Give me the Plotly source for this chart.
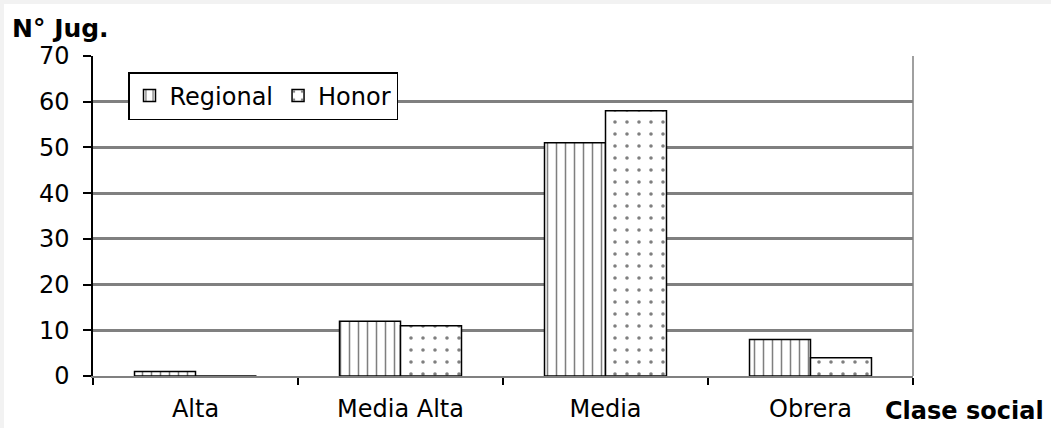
import plotly.graph_objects as go

categories = ["Alta", "Media Alta", "Media", "Obrera"]
regional = [1, 12, 51, 8]
honor = [0, 11, 58, 4]
y_ticks = [0, 10, 20, 30, 40, 50, 60, 70]

W, H = 1051, 428
L, R, T, B = 93, 138, 56, 52
pw, ph = W - L - R, H - T - B

def px_x(p):
    return (p - L) / pw

def px_y(p):
    return (H - B - p) / ph

FONT = "DejaVu Sans, Verdana, sans-serif"

fig = go.Figure()
fig.add_trace(go.Bar(
    x=categories, y=regional, name="Regional",
    marker=dict(color="white", line=dict(color="black", width=1.5),
                pattern=dict(shape="|", size=9, solidity=0.17, fgcolor="black", bgcolor="white")),
))
fig.add_trace(go.Bar(
    x=categories, y=honor, name="Honor",
    marker=dict(color="white", line=dict(color="black", width=1.5),
                pattern=dict(shape=".", size=12, solidity=0.07, fgcolor="black", bgcolor="white")),
))

fig.update_layout(
    width=W, height=H,
    margin=dict(l=L, r=R, t=T, b=B, autoexpand=False),
    paper_bgcolor="#f2f2f2",
    plot_bgcolor="white",
    barmode="group",
    bargap=0.405,
    bargroupgap=0,
    font=dict(family=FONT, size=24, color="black"),
    showlegend=True,
    legend=dict(
        orientation="h",
        x=px_x(128), y=px_y(72), xanchor="left", yanchor="top",
        bgcolor="white", bordercolor="black", borderwidth=1.5,
        font=dict(size=24, family=FONT),
        tracegroupgap=0,
    ),
    xaxis=dict(
        range=[-0.5, 3.5],
        showline=True, linecolor="#808080", linewidth=2,
        ticks="outside", ticklen=7, tickcolor="black", tickwidth=1.5,
        tickson="boundaries",
        ticklabelstandoff=10,
        showgrid=False,
        tickfont=dict(size=24, family=FONT),
    ),
    yaxis=dict(
        range=[0, 70],
        tickvals=y_ticks,
        showline=True, linecolor="black", linewidth=1.5,
        ticks="outside", ticklen=8, tickcolor="black", tickwidth=1.5,
        ticklabelstandoff=9,
        showgrid=True, gridcolor="#808080", gridwidth=2.5,
        zeroline=False,
        tickfont=dict(size=24, family=FONT),
    ),
    shapes=[
        dict(type="rect", xref="paper", yref="paper",
             x0=px_x(4), x1=px_x(W), y0=px_y(H), y1=px_y(4),
             fillcolor="white", line=dict(width=0), layer="below"),
        dict(type="line", xref="paper", yref="paper",
             x0=1, x1=1, y0=0, y1=1,
             line=dict(color="#808080", width=1.5)),
    ],
    annotations=[
        dict(text="<b>N° Jug.</b>", xref="paper", yref="paper",
             x=px_x(10), y=px_y(28), xanchor="left", yanchor="middle",
             showarrow=False, font=dict(size=25, family=FONT)),
        dict(text="<b>Clase social</b>", xref="paper", yref="paper",
             x=px_x(1046), y=px_y(411), xanchor="right", yanchor="middle",
             showarrow=False, font=dict(size=24, family=FONT)),
    ],
)

fig.write_html("out.html")
